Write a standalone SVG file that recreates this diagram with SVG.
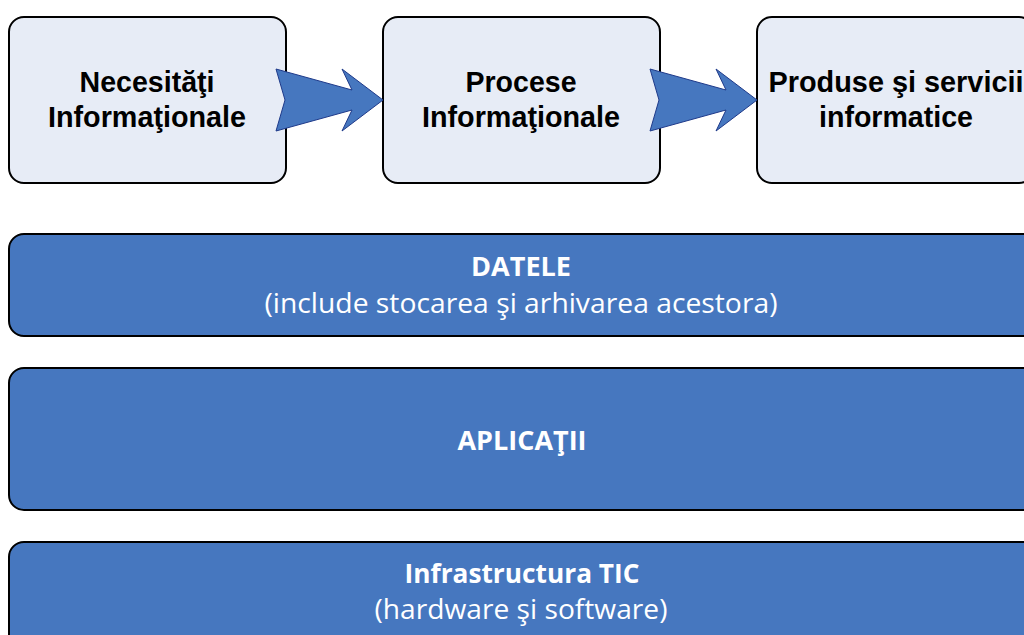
<svg xmlns="http://www.w3.org/2000/svg" width="1024" height="635" viewBox="0 0 1024 635">
<style>
.box{fill:#E7ECF6;stroke:#000;stroke-width:2}
.bar{fill:#4677BF;stroke:#000;stroke-width:2}
.arr{fill:#4677BF;stroke:#1F3A8A;stroke-width:1}
.t{font-family:"Liberation Sans",Arial,sans-serif;font-weight:bold;font-size:29px;fill:#000;text-anchor:middle}
.w{font-family:"Open Sans","Liberation Sans",sans-serif;font-size:27px;fill:#fff;text-anchor:middle}
.wb{font-weight:bold}
</style>
<rect width="1024" height="635" fill="#fff"/>
<g id="node-necesitati">
<rect class="box" x="9" y="17" width="277" height="166" rx="15"/>
<text class="t" x="147" y="92" textLength="135" lengthAdjust="spacingAndGlyphs">Necesităţi</text>
<text class="t" x="147" y="127" textLength="198" lengthAdjust="spacingAndGlyphs">Informaţionale</text>
</g>
<g id="node-procese">
<rect class="box" x="383" y="17" width="277" height="166" rx="15"/>
<text class="t" x="521" y="92" textLength="111" lengthAdjust="spacingAndGlyphs">Procese</text>
<text class="t" x="521" y="127" textLength="198" lengthAdjust="spacingAndGlyphs">Informaţionale</text>
</g>
<g id="node-produse">
<rect class="box" x="757" y="17" width="277" height="166" rx="15"/>
<text class="t" x="896" y="92" textLength="255" lengthAdjust="spacingAndGlyphs">Produse şi servicii</text>
<text class="t" x="896" y="127" textLength="154" lengthAdjust="spacingAndGlyphs">informatice</text>
</g>
<g id="connectors">
<path class="arr" d="M276,69 L352,90 L342,69 L383,100 L342,131 L352,110 L276,131 L285,100 Z"/>
<path class="arr" d="M650,69 L726,90 L716,69 L757,100 L716,131 L726,110 L650,131 L659,100 Z"/>
</g>
<g id="node-datele">
<rect class="bar" x="9" y="234" width="1030" height="102" rx="15"/>
<text class="w wb" x="521" y="276" textLength="100" lengthAdjust="spacingAndGlyphs">DATELE</text>
<text class="w" x="521" y="313" textLength="513" lengthAdjust="spacingAndGlyphs">(include stocarea şi arhivarea acestora)</text>
</g>
<g id="node-aplicatii">
<rect class="bar" x="9" y="368" width="1030" height="142" rx="15"/>
<text class="w wb" x="522" y="450" textLength="129" lengthAdjust="spacingAndGlyphs">APLICAŢII</text>
</g>
<g id="node-infrastructura">
<rect class="bar" x="9" y="542" width="1030" height="120" rx="15"/>
<text class="w wb" x="522" y="583" textLength="235" lengthAdjust="spacingAndGlyphs">Infrastructura TIC</text>
<text class="w" x="521" y="619" textLength="293" lengthAdjust="spacingAndGlyphs">(hardware şi software)</text>
</g>
</svg>
